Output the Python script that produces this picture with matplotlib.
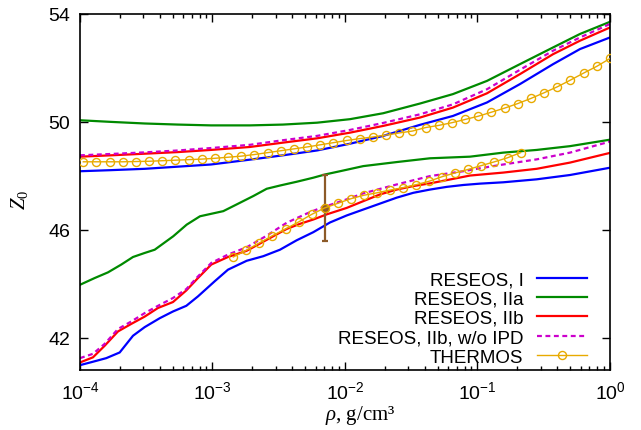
import numpy as np
import matplotlib
matplotlib.use('Agg')
import matplotlib.pyplot as plt
from matplotlib.ticker import FixedLocator, FuncFormatter, LogLocator, NullFormatter

plt.rcParams['font.family'] = ['Liberation Sans', 'DejaVu Sans']
plt.rcParams['mathtext.fontset'] = 'custom'
plt.rcParams['mathtext.rm'] = 'Liberation Serif'
plt.rcParams['mathtext.it'] = 'Liberation Serif:italic'
plt.rcParams['mathtext.sf'] = 'Liberation Sans'

# --- upper branch, smooth curves (shared density grid)
rho_up = [1.0e-4, 1.71e-4, 3.09e-4, 5.49e-4, 9.74e-4, 1.92e-3, 3.40e-3, 6.15e-3,
          1.09e-2, 1.94e-2, 3.68e-2, 6.53e-2, 0.118, 0.209, 0.372, 0.594, 1.0]
z_I_up = [48.17, 48.21, 48.26, 48.34, 48.42, 48.60, 48.76, 48.94,
          49.19, 49.48, 49.89, 50.22, 50.72, 51.40, 52.14, 52.70, 53.13]
z_IIa_up = [50.06, 50.00, 49.94, 49.90, 49.87, 49.87, 49.90, 49.97,
            50.10, 50.32, 50.68, 51.03, 51.52, 52.14, 52.76, 53.26, 53.71]
z_IIb_up = [48.71, 48.76, 48.82, 48.88, 48.96, 49.07, 49.23, 49.39,
            49.60, 49.85, 50.16, 50.53, 51.06, 51.77, 52.51, 53.01, 53.50]
z_noipd_up = [48.76, 48.81, 48.87, 48.94, 49.03, 49.15, 49.32, 49.48,
              49.70, 49.96, 50.28, 50.65, 51.21, 51.93, 52.64, 53.13, 53.63]

# --- lower branch
rho_I_lo = [1.0e-4, 1.217e-4, 1.579e-4, 1.993e-4, 2.512e-4, 3.078e-4, 3.995e-4, 5.032e-4,
            6.343e-4, 7.771e-4, 1.039e-3, 1.309e-3, 1.812e-3, 2.417e-3, 3.231e-3, 4.319e-3,
            5.765e-3, 7.704e-3, 1.030e-2, 1.374e-2, 1.837e-2, 2.456e-2, 3.277e-2, 4.380e-2,
            5.856e-2, 7.812e-2, 0.1044, 0.1565, 0.2798, 0.4990, 1.0]
z_I_lo = [40.98, 41.09, 41.24, 41.45, 42.07, 42.39, 42.72, 42.97,
          43.18, 43.53, 44.09, 44.52, 44.85, 45.02, 45.26, 45.61,
          45.91, 46.27, 46.53, 46.75, 46.97, 47.19, 47.37, 47.49,
          47.59, 47.66, 47.71, 47.76, 47.87, 48.03, 48.30]

rho_IIa_lo = [1.0e-4, 1.291e-4, 1.626e-4, 2.049e-4, 2.512e-4, 3.078e-4, 3.663e-4, 5.059e-4,
              6.387e-4, 8.046e-4, 1.206e-3, 1.523e-3, 2.032e-3, 2.565e-3, 3.231e-3, 4.319e-3,
              5.765e-3, 7.065e-3, 9.169e-3, 1.374e-2, 2.456e-2, 4.380e-2, 8.777e-2, 0.1565,
              0.2798, 0.4990, 1.0]
z_IIa_lo = [43.96, 44.21, 44.42, 44.71, 44.99, 45.14, 45.26, 45.76,
            46.19, 46.50, 46.69, 46.94, 47.25, 47.52, 47.64, 47.78,
            47.93, 48.05, 48.17, 48.36, 48.51, 48.65, 48.71, 48.86,
            48.96, 49.10, 49.34]

rho_IIb_lo = [1.0e-4, 1.253e-4, 1.536e-4, 1.935e-4, 2.439e-4, 3.078e-4, 3.879e-4, 5.032e-4,
              6.343e-4, 7.771e-4, 9.793e-4, 1.309e-3, 1.812e-3, 2.283e-3, 2.876e-3, 3.631e-3,
              4.574e-3, 5.765e-3, 7.276e-3, 1.030e-2, 1.374e-2, 1.837e-2, 2.456e-2, 3.277e-2,
              4.380e-2, 5.856e-2, 8.777e-2, 0.1565, 0.2798, 0.4990, 1.0]
z_IIb_lo = [41.08, 41.27, 41.70, 42.23, 42.51, 42.78, 43.10, 43.32,
            43.75, 44.21, 44.71, 44.99, 45.22, 45.49, 45.76, 46.03,
            46.22, 46.38, 46.57, 46.81, 47.06, 47.31, 47.49, 47.62,
            47.72, 47.84, 48.01, 48.12, 48.26, 48.49, 48.85]

rho_noipd_lo = [1.0e-4, 1.253e-4, 1.536e-4, 1.935e-4, 2.439e-4, 3.078e-4, 3.879e-4, 5.032e-4,
                6.343e-4, 7.771e-4, 9.793e-4, 1.309e-3, 1.812e-3, 2.565e-3, 3.631e-3, 5.140e-3,
                6.478e-3, 8.404e-3, 1.091e-2, 1.374e-2, 2.456e-2, 4.380e-2, 7.812e-2, 0.1044,
                0.1565, 0.2798, 0.4990, 1.0]
z_noipd_lo = [41.24, 41.40, 41.77, 42.32, 42.60, 42.91, 43.18, 43.47,
              43.80, 44.27, 44.77, 45.08, 45.35, 45.78, 46.26, 46.60,
              46.80, 46.98, 47.17, 47.35, 47.68, 47.99, 48.17, 48.28,
              48.42, 48.61, 48.86, 49.27]

# --- THERMOS
rho_th_up = [1.059e-4, 1.331e-4, 1.674e-4, 2.104e-4, 2.646e-4, 3.325e-4, 4.181e-4, 5.256e-4,
             6.607e-4, 8.306e-4, 1.044e-3, 1.313e-3, 1.650e-3, 2.074e-3, 2.608e-3, 3.278e-3,
             4.121e-3, 5.181e-3, 6.513e-3, 8.186e-3, 1.029e-2, 1.294e-2, 1.626e-2, 2.045e-2,
             2.570e-2, 3.231e-2, 4.062e-2, 5.106e-2, 6.419e-2, 8.070e-2, 0.1014, 0.1275,
             0.1603, 0.2015, 0.2533, 0.3184, 0.4003, 0.5032, 0.6327, 0.7955, 1.0]
z_th_up = [48.52, 48.52, 48.52, 48.52, 48.53, 48.54, 48.56, 48.58,
           48.60, 48.62, 48.65, 48.69, 48.73, 48.79, 48.86, 48.93,
           49.00, 49.07, 49.15, 49.23, 49.31, 49.38, 49.44, 49.51,
           49.59, 49.66, 49.79, 49.87, 49.97, 50.09, 50.21, 50.36,
           50.51, 50.68, 50.87, 51.08, 51.30, 51.55, 51.81, 52.06, 52.35]
rho_th_lo = [1.435e-3, 1.801e-3, 2.260e-3, 2.836e-3, 3.559e-3, 4.466e-3, 5.603e-3, 7.031e-3,
             8.823e-3, 1.107e-2, 1.389e-2, 1.743e-2, 2.187e-2, 2.744e-2, 3.443e-2, 4.321e-2,
             5.421e-2, 6.803e-2, 8.536e-2, 0.1071, 0.1344, 0.1687, 0.2116]
z_th_lo = [44.99, 45.24, 45.51, 45.78, 46.03, 46.29, 46.57, 46.81,
           46.98, 47.15, 47.28, 47.37, 47.47, 47.56, 47.67, 47.80,
           47.97, 48.11, 48.24, 48.38, 48.52, 48.67, 48.86]

# error bar point
rho_err = [7.031e-3]
z_err = [46.81]
dz_err = [1.21]

c_I, c_IIa, c_IIb, c_noipd = '#0000ff', '#008a00', '#ff0000', '#cc00cc'
c_th, c_err = '#e8aa00', '#8c5a28'

fig = plt.figure(figsize=(6.41, 4.31), dpi=100)
ax = fig.add_axes([0.1248, 0.1392, 0.8268, 0.826])

lw = 1.6
ax.plot(rho_up, z_I_up, color=c_I, lw=lw, label='RESEOS, I')
ax.plot(rho_I_lo, z_I_lo, color=c_I, lw=lw)
ax.plot(rho_up, z_IIa_up, color=c_IIa, lw=lw, label='RESEOS, IIa')
ax.plot(rho_IIa_lo, z_IIa_lo, color=c_IIa, lw=lw)
ax.plot(rho_up, z_IIb_up, color=c_IIb, lw=lw, label='RESEOS, IIb')
ax.plot(rho_IIb_lo, z_IIb_lo, color=c_IIb, lw=lw)
ax.plot(rho_up, z_noipd_up, color=c_noipd, lw=lw, ls=(0, (2.2, 1.6)),
        label='RESEOS, IIb, w/o IPD')
ax.plot(rho_noipd_lo, z_noipd_lo, color=c_noipd, lw=lw, ls=(0, (2.2, 1.6)))

ax.errorbar(rho_err, z_err, yerr=dz_err, color=c_err, lw=1.6, capsize=2.5,
            capthick=1.6, marker='o', ms=5.5, mfc=c_err, mec=c_err, zorder=3)

thk = dict(color=c_th, lw=1.0, marker='o', ms=5.8, mfc='none', mec=c_th, mew=1.0, zorder=4)
ax.plot(rho_th_up, z_th_up, label='THERMOS', **thk)
ax.plot(rho_th_lo, z_th_lo, **thk)

ax.set_xscale('log')
ax.set_xlim(1e-4, 1)
ax.set_ylim(40.8, 54)
ax.yaxis.set_major_locator(FixedLocator([42, 46, 50, 54]))
ax.xaxis.set_major_locator(LogLocator(base=10, numticks=10))
ax.xaxis.set_minor_locator(LogLocator(base=10, subs=np.arange(2, 10), numticks=20))
ax.xaxis.set_minor_formatter(NullFormatter())
ax.xaxis.set_major_formatter(FuncFormatter(
    lambda v, p: r'$\mathsf{10^{%d}}$' % int(round(np.log10(v)))))
ax.yaxis.set_major_formatter(FuncFormatter(lambda v, p: '%d' % v))

ax.tick_params(which='both', direction='in', top=True, right=True, labelsize=14, width=1.0)
ax.tick_params(which='major', length=6, pad=7)
ax.tick_params(which='minor', length=3)
for s in ax.spines.values():
    s.set_linewidth(1.2)

ax.set_xlabel(r'$\rho$, g/cm³', fontsize=15, family='Liberation Serif')
ax.xaxis.set_label_coords(0.528, -0.093)
ax.set_ylabel(r'$Z_0$', fontsize=15)
ax.yaxis.set_label_coords(-0.095, 0.48)

ax.legend(loc='lower right', bbox_to_anchor=(0.957, 0.012), frameon=False, fontsize=13.5,
          markerfirst=False, alignment='right', handlelength=2.7, handletextpad=0.7,
          labelspacing=0.12, borderpad=0, borderaxespad=0)

fig.savefig('out.png', dpi=100)
